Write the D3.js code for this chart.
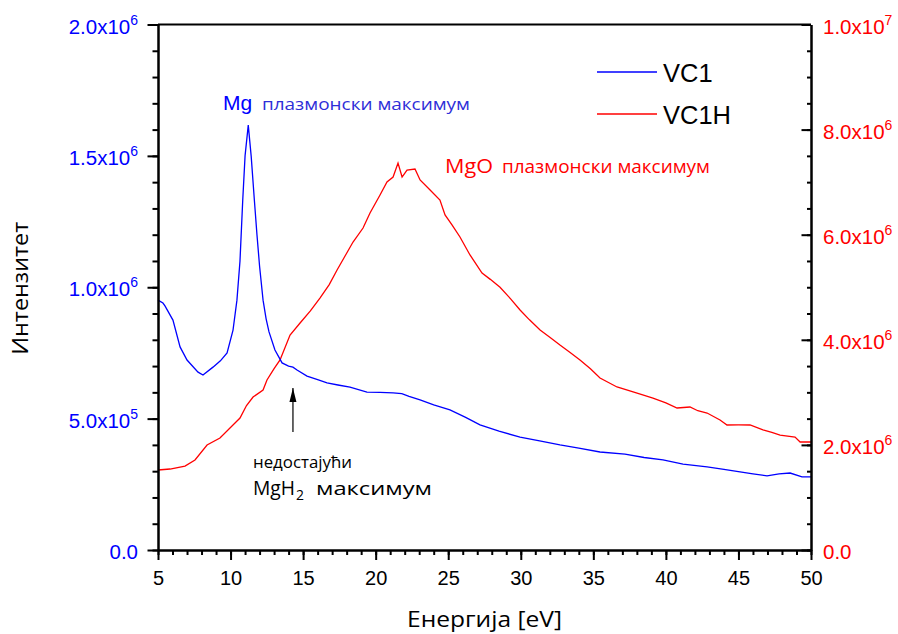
<!DOCTYPE html>
<html>
<head>
<meta charset="utf-8">
<script src="https://cdn.jsdelivr.net/npm/d3@7/dist/d3.min.js"></script>
<style>
  html, body { margin: 0; padding: 0; background: #fff; }
  svg { display: block; }
</style>
</head>
<body>
<svg id="chart" width="898" height="634"></svg>
<script>
// Energy loss spectra: VC1 (left axis) and VC1H (right axis)
const energyVC1 = [5.0, 5.34, 5.48, 6.03, 6.52, 7.0, 7.76, 8.1, 8.79, 9.3, 9.76, 10.17, 10.44, 10.65, 10.84, 11.0, 11.22, 11.42, 11.64, 11.82, 12.0, 12.24, 12.45, 12.65, 13.06, 13.55, 14.0, 14.3, 14.58, 15.27, 16.0, 16.65, 17.4, 18.23, 19.4, 20.3, 21.2, 21.8, 22.3, 23.06, 24.0, 25.12, 26.2, 27.19, 28.5, 29.95, 31.3, 32.7, 34.0, 35.46, 37.18, 38.5, 39.8, 41.18, 42.84, 44.0, 45.11, 46.0, 46.97, 47.8, 48.56, 49.38, 50.0];
const valuesVC1 = [0.951e6, 0.940e6, 0.929e6, 0.875e6, 0.773e6, 0.723e6, 0.677e6, 0.666e6, 0.696e6, 0.72e6, 0.750e6, 0.837e6, 0.951e6, 1.10e6, 1.332e6, 1.50e6, 1.617e6, 1.50e6, 1.332e6, 1.20e6, 1.08e6, 0.951e6, 0.88e6, 0.830e6, 0.761e6, 0.712e6, 0.70e6, 0.696e6, 0.685e6, 0.662e6, 0.648e6, 0.636e6, 0.628e6, 0.620e6, 0.601e6, 0.600e6, 0.598e6, 0.595e6, 0.585e6, 0.571e6, 0.552e6, 0.533e6, 0.505e6, 0.476e6, 0.452e6, 0.430e6, 0.415e6, 0.400e6, 0.388e6, 0.373e6, 0.365e6, 0.352e6, 0.343e6, 0.327e6, 0.316e6, 0.307e6, 0.297e6, 0.290e6, 0.282e6, 0.290e6, 0.293e6, 0.278e6, 0.278e6];

const energyVC1H = [5.0, 5.83, 6.86, 7.55, 8.38, 9.27, 9.96, 10.65, 11.1, 11.55, 12.24, 12.51, 13.0, 13.41, 14.1, 14.79, 15.5, 16.16, 16.8, 17.34, 17.9, 18.44, 19.13, 19.61, 20.3, 20.78, 21.2, 21.54, 21.82, 22.16, 22.71, 23.06, 23.75, 24.43, 24.78, 25.26, 25.81, 26.5, 27.33, 27.9, 28.57, 29.3, 29.95, 30.6, 31.33, 32.0, 32.7, 33.4, 34.08, 34.8, 35.46, 36.63, 37.74, 38.4, 39.11, 40.0, 40.77, 41.66, 42.2, 42.84, 43.73, 44.21, 45.0, 45.8, 46.69, 47.3, 47.87, 48.9, 49.25, 50.0];
const valuesVC1H = [1.522e6, 1.541e6, 1.598e6, 1.713e6, 1.998e6, 2.131e6, 2.322e6, 2.512e6, 2.75e6, 2.911e6, 3.045e6, 3.235e6, 3.45e6, 3.616e6, 4.091e6, 4.320e6, 4.55e6, 4.795e6, 5.05e6, 5.328e6, 5.60e6, 5.861e6, 6.127e6, 6.413e6, 6.755e6, 7.003e6, 7.098e6, 7.364e6, 7.098e6, 7.231e6, 7.250e6, 7.041e6, 6.851e6, 6.660e6, 6.375e6, 6.185e6, 5.956e6, 5.614e6, 5.271e6, 5.15e6, 5.0e6, 4.78e6, 4.567e6, 4.38e6, 4.186e6, 4.05e6, 3.901e6, 3.76e6, 3.616e6, 3.45e6, 3.273e6, 3.102e6, 3.007e6, 2.95e6, 2.892e6, 2.80e6, 2.702e6, 2.721e6, 2.65e6, 2.607e6, 2.474e6, 2.379e6, 2.38e6, 2.379e6, 2.284e6, 2.24e6, 2.188e6, 2.150e6, 2.055e6, 2.055e6];

// Axis ticks and their labels (mantissa, exponent)
const xTicks = [5, 10, 15, 20, 25, 30, 35, 40, 45, 50];
const leftTicks = [0, 5e5, 1e6, 1.5e6, 2e6];
const leftTickLabels = [["0.0", ""], ["5.0x10", "5"], ["1.0x10", "6"], ["1.5x10", "6"], ["2.0x10", "6"]];
const rightTicks = [0, 2e6, 4e6, 6e6, 8e6, 1e7];
const rightTickLabels = [["0.0", ""], ["2.0x10", "6"], ["4.0x10", "6"], ["6.0x10", "6"], ["8.0x10", "6"], ["1.0x10", "7"]];

const seriesNames = ["VC1", "VC1H"];
const BLUE = "#0000ff", RED = "#ff0000";
const ARIAL = "'Liberation Sans', Arial, sans-serif";
const SANS = "'Open Sans', Lato, sans-serif";

const svg = d3.select("#chart");
const L = 158, R = 811, T = 24.5, B = 550;

const x = d3.scaleLinear().domain([5, 50]).range([L, R]);
const yL = d3.scaleLinear().domain([0, 2e6]).range([B, T]);
const yR = d3.scaleLinear().domain([0, 1e7]).range([B, T]);

// curves
const lineL = d3.line().x(d => x(d[0])).y(d => yL(d[1]));
const lineR = d3.line().x(d => x(d[0])).y(d => yR(d[1]));
svg.append("path")
  .datum(energyVC1H.map((e, i) => [e, valuesVC1H[i]]))
  .attr("d", lineR).attr("fill", "none").attr("stroke", RED).attr("stroke-width", 1.3);
svg.append("path")
  .datum(energyVC1.map((e, i) => [e, valuesVC1[i]]))
  .attr("d", lineL).attr("fill", "none").attr("stroke", BLUE).attr("stroke-width", 1.3);

// top frame line
svg.append("line").attr("x1", L).attr("x2", R).attr("y1", T).attr("y2", T)
  .attr("stroke", "#000").attr("stroke-width", 2);

function styleAxis(g) {
  g.select(".domain").attr("stroke", "#000").attr("stroke-width", 2);
  g.selectAll(".tick line").attr("stroke", "#000").attr("stroke-width", 2);
}

// bottom axis: minor then major
svg.append("g").attr("transform", `translate(0,${B})`)
  .call(d3.axisBottom(x).tickValues(d3.range(5, 51, 1)).tickSize(5).tickSizeOuter(0).tickFormat(""))
  .call(styleAxis);
const gx = svg.append("g").attr("transform", `translate(0,${B})`)
  .call(d3.axisBottom(x).tickValues(xTicks).tickSize(10).tickSizeOuter(0))
  .call(styleAxis);
gx.selectAll(".tick text").attr("font-family", ARIAL).attr("font-size", 20).attr("fill", "#000")
  .attr("dy", null).attr("y", 35);

// left axis
svg.append("g").attr("transform", `translate(${L},0)`)
  .call(d3.axisLeft(yL).tickValues(d3.range(0, 2.0001e6, 1e5)).tickSize(5.5).tickSizeOuter(0).tickFormat(""))
  .call(styleAxis);
const gl = svg.append("g").attr("transform", `translate(${L},0)`)
  .call(d3.axisLeft(yL).tickValues(leftTicks).tickSize(10.5).tickSizeOuter(0).tickFormat(""))
  .call(styleAxis);
gl.selectAll(".tick").each(function(d, i) {
  const t = d3.select(this).append("text")
    .attr("x", -20).attr("y", 8.5).attr("text-anchor", "end")
    .attr("font-family", ARIAL).attr("font-size", 20.5).attr("fill", BLUE);
  t.append("tspan").text(leftTickLabels[i][0]);
  if (leftTickLabels[i][1]) t.append("tspan").attr("font-size", 14).attr("dy", -9).text(leftTickLabels[i][1]);
});

// right axis (ticks pointing into the plot)
svg.append("g").attr("transform", `translate(${R},0)`)
  .call(d3.axisLeft(yR).tickValues(d3.range(0, 1.00001e7, 5e5)).tickSize(4).tickSizeOuter(0).tickFormat(""))
  .call(styleAxis);
const gr = svg.append("g").attr("transform", `translate(${R},0)`)
  .call(d3.axisLeft(yR).tickValues(rightTicks).tickSize(9.5).tickSizeOuter(0).tickFormat(""))
  .call(styleAxis);
gr.selectAll(".tick").each(function(d, i) {
  const t = d3.select(this).append("text")
    .attr("x", 12).attr("y", 8.5).attr("text-anchor", "start")
    .attr("font-family", ARIAL).attr("font-size", 20.5).attr("fill", RED);
  t.append("tspan").text(rightTickLabels[i][0]);
  if (rightTickLabels[i][1]) t.append("tspan").attr("font-size", 14).attr("dy", -9).text(rightTickLabels[i][1]);
});

// helper: text fitted to a given run length
function label(px, py, str, size, width, fill, anchor) {
  return svg.append("text").attr("x", px).attr("y", py).attr("font-family", SANS)
    .attr("font-size", size).attr("fill", fill).attr("text-anchor", anchor || "start")
    .attr("textLength", width).attr("lengthAdjust", "spacingAndGlyphs").text(str);
}

// axis titles
label((L + R) / 2, 627, "Енергија [eV]", 21.5, 155, "#000", "middle");
label(0, 0, "Интензитет", 22.5, 133, "#000", "middle")
  .attr("x", null).attr("y", null)
  .attr("transform", `translate(28,${(T + B) / 2 + 1}) rotate(-90)`);

// legend
const legend = svg.append("g");
[[BLUE, 72, 82], [RED, 114, 124]].forEach(([c, ly, ty], i) => {
  legend.append("line").attr("x1", 597).attr("x2", 657).attr("y1", ly).attr("y2", ly)
    .attr("stroke", c).attr("stroke-width", 1.5);
  legend.append("text").attr("x", 663).attr("y", ty).attr("font-family", ARIAL)
    .attr("font-size", 25.5).attr("fill", "#000").text(seriesNames[i]);
});

// annotations
svg.append("text").attr("x", 223).attr("y", 110).attr("fill", BLUE)
  .attr("font-family", ARIAL).attr("font-size", 21).text("Mg");
label(262, 110, "плазмонски максимум", 17, 208, "#2e2ed8");

label(445, 173, "MgO", 20.5, 48, RED);
label(502, 173, "плазмонски максимум", 17.5, 208, RED);

label(253, 468, "недостајући", 17, 99, "#000");
label(253, 495, "MgH", 20, 42, "#000");
label(296, 500, "2", 14, 8, "#000");
label(316, 495, "максимум", 18, 116, "#000");

// arrow marking the missing MgH2 peak
svg.append("defs").append("marker").attr("id", "arrowhead")
  .attr("viewBox", "0 0 14 8").attr("refX", 14).attr("refY", 4)
  .attr("markerWidth", 14).attr("markerHeight", 8).attr("markerUnits", "userSpaceOnUse")
  .attr("orient", "auto")
  .append("path").attr("d", "M0,0.5 L14,4 L0,7.5 Z").attr("fill", "#000");
svg.append("line").attr("x1", x(14.3)).attr("x2", x(14.3)).attr("y1", 432).attr("y2", 388)
  .attr("stroke", "#000").attr("stroke-width", 1.2).attr("marker-end", "url(#arrowhead)");
</script>
</body>
</html>
